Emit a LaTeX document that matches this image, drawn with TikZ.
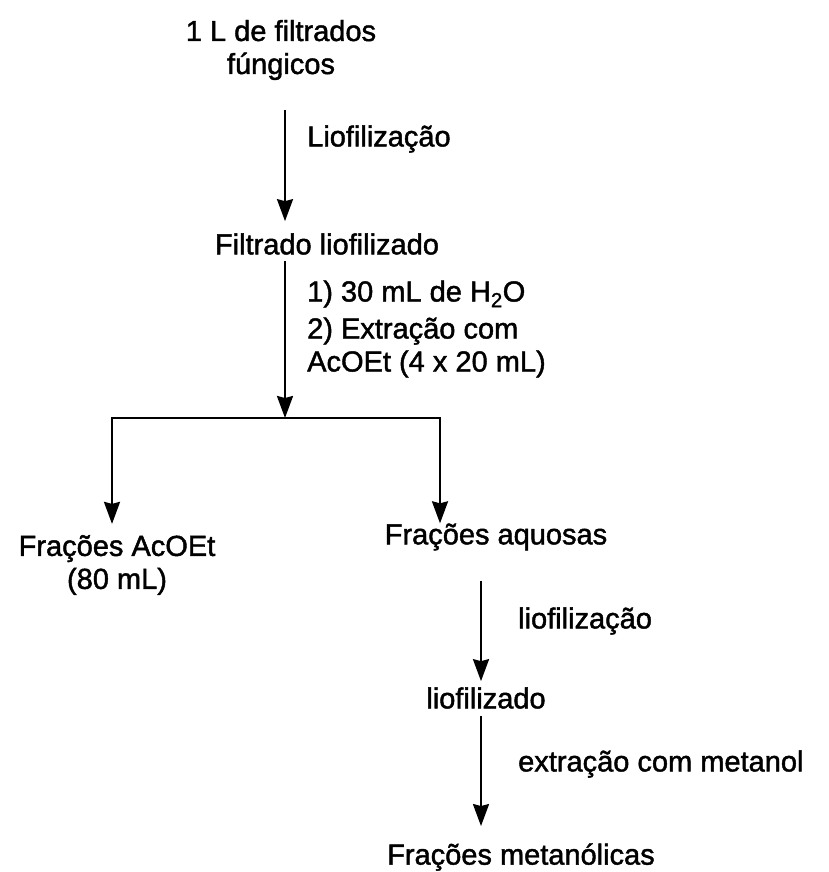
\documentclass[tikz,border=0pt]{standalone}
\usepackage{fontspec}
\setmainfont{Liberation Sans}[FakeBold=1.5]
\usetikzlibrary{arrows.meta,positioning,calc}

\begin{document}
\begin{tikzpicture}[x=1pt,y=-1pt,
etapa/.style={inner sep=0pt,align=center,font=\fontsize{29}{33}\selectfont},
rotulo/.style={inner sep=0pt,anchor=west,align=left,font=\fontsize{29}{33}\selectfont},
arr/.style={-{Stealth[length=22pt,width=16pt,inset=2pt]},line width=2.2pt}]
\useasboundingbox (0,0) rectangle (828,872);
% etapas do fluxo
\node[etapa] (src) at (281,50) {1 L de filtrados\\fúngicos};
\node[etapa] (lio) at (327,244) {Filtrado liofilizado};
\node[etapa] (aco) at (117,565) {Frações AcOEt\\(80 mL)};
\node[etapa] (aq) at (496,537) {Frações aquosas};
\node[etapa] (liof) at (486,698) {liofilizado};
\node[etapa] (met) at (521,857) {Frações metanólicas};
% eixos das setas
\coordinate (c1) at (285,0);
\coordinate (c2) at (481,0);
\coordinate (split) at (285,418);
\coordinate (bl) at (112,418);
\coordinate (br) at (440,418);
\draw[arr,shorten <=30pt,shorten >=12pt] (src.south -| c1) -- (lio.north -| c1);
\node[rotulo] (r1) at (307,139) {Liofilização};
\draw[arr,shorten <=6pt] (lio.south -| c1) -- (split);
\node[rotulo] (r2) at (307,329) {1) 30 mL de H\textsubscript{2}O\\[4pt]2) Extração com\\AcOEt (4 x 20 mL)};
\draw[{Stealth[length=22pt,width=16pt,inset=2pt]}-{Stealth[length=22pt,width=16pt,inset=2pt]},line width=2.2pt,shorten <=11pt,shorten >=0pt]
  (aco.north -| bl) -- (bl) -- (br) -- (aq.north -| br);
\draw[arr,shorten <=30pt,shorten >=6pt] (aq.south -| c2) -- (liof.north -| c2);
\node[rotulo] (r3) at (518,621) {liofilização};
\draw[arr,shorten <=7pt,shorten >=17pt] (liof.south -| c2) -- (met.north -| c2);
\node[rotulo] (r4) at (518,764) {extração com metanol};
\end{tikzpicture}
\end{document}
